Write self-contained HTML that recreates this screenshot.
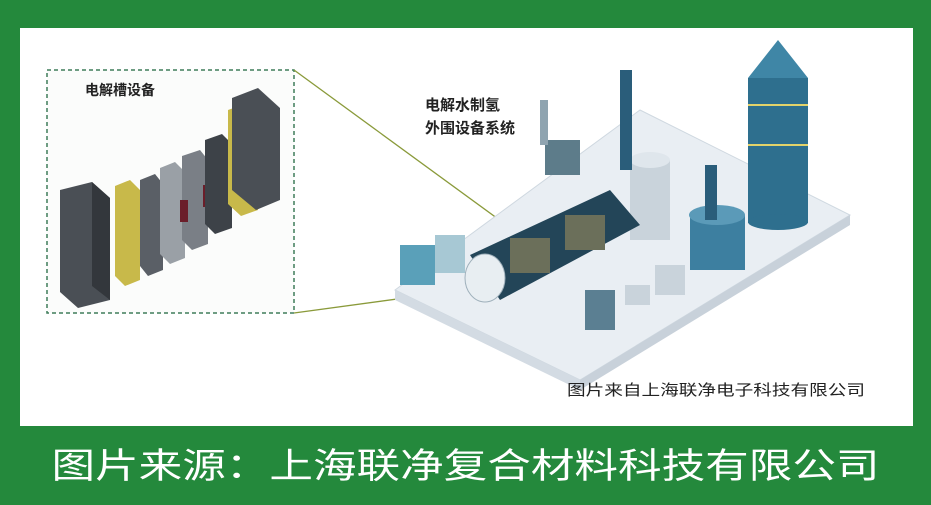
<!DOCTYPE html>
<html><head><meta charset="utf-8"><style>
html,body{margin:0;padding:0;width:931px;height:505px;overflow:hidden;background:#24893c;}
svg{display:block}
text{font-family:"Liberation Sans","Noto Sans CJK SC",sans-serif;}
</style></head><body>
<svg width="931" height="505" viewBox="0 0 931 505">
<rect x="0" y="0" width="931" height="505" fill="#24893c"/>
<rect x="20" y="28" width="893" height="398" fill="#ffffff"/>
<rect x="47" y="70" width="247" height="243" fill="#fbfcfb" stroke="#3f7d5a" stroke-width="1.5" stroke-dasharray="4,3"/>
<text x="85" y="95" font-size="14" font-weight="bold" fill="#222">电解槽设备</text>
<line x1="294" y1="70" x2="520" y2="235" stroke="#8a9a3a" stroke-width="1.3"/>
<line x1="294" y1="313" x2="500" y2="285" stroke="#8a9a3a" stroke-width="1.3"/>
<polygon points="60,190 92,182 110,198 110,300 78,308 60,292" fill="#4a4f55"/>
<polygon points="92,182 110,198 110,300 92,286" fill="#33373c"/>
<polygon points="115,186 130,180 140,190 140,280 125,286 115,276" fill="#c8b94a"/>
<polygon points="140,180 155,174 163,184 163,270 148,276 140,266" fill="#5a5f66"/>
<polygon points="160,168 175,162 185,172 185,258 170,264 160,254" fill="#9aa0a6"/>
<polygon points="182,156 200,150 208,160 208,244 192,250 182,240" fill="#7a7f86"/>
<rect x="180" y="200" width="8" height="22" fill="#6b1e2a"/>
<rect x="203" y="185" width="8" height="22" fill="#6b1e2a"/>
<polygon points="205,140 222,134 232,144 232,228 215,234 205,224" fill="#3d4248"/>
<polygon points="228,110 245,104 258,116 258,210 241,216 228,204" fill="#c8b94a"/>
<polygon points="232,98 258,88 280,108 280,200 256,210 232,190" fill="#4a4f55"/>
<polygon points="395,290 640,110 850,215 580,380" fill="#e9eef3" stroke="#cfd8e0"/>
<polygon points="395,290 580,380 580,390 395,300" fill="#d3dbe3"/>
<polygon points="580,380 850,215 850,225 580,390" fill="#c8d1da"/>
<rect x="748" y="78" width="60" height="145" fill="#2e6f8e"/>
<ellipse cx="778" cy="222" rx="30" ry="8" fill="#2e6f8e"/>
<polygon points="748,78 778,40 808,78" fill="#3f86a6"/>
<line x1="748" y1="105" x2="808" y2="105" stroke="#e3d36a" stroke-width="2"/>
<line x1="748" y1="145" x2="808" y2="145" stroke="#e3d36a" stroke-width="2"/>
<rect x="630" y="160" width="40" height="80" fill="#c9d3db"/>
<ellipse cx="650" cy="160" rx="20" ry="8" fill="#dfe6ec"/>
<rect x="620" y="70" width="12" height="100" fill="#2a5d7a"/>
<rect x="690" y="215" width="55" height="55" fill="#3d7fa0"/>
<ellipse cx="717" cy="215" rx="28" ry="10" fill="#5b9ab8"/>
<rect x="705" y="165" width="12" height="55" fill="#2a5d7a"/>
<rect x="545" y="140" width="35" height="35" fill="#5d7c8a"/>
<rect x="540" y="100" width="8" height="45" fill="#8fa4b0"/>
<polygon points="470,255 610,190 640,225 500,300" fill="#234558"/>
<ellipse cx="485" cy="278" rx="20" ry="24" fill="#e8eef2" stroke="#9fb0bb"/>
<rect x="510" y="238" width="40" height="35" fill="#6b6f5a"/>
<rect x="565" y="215" width="40" height="35" fill="#6b6f5a"/>
<rect x="400" y="245" width="35" height="40" fill="#5aa0b9"/>
<rect x="435" y="235" width="30" height="38" fill="#a7c8d4"/>
<rect x="585" y="290" width="30" height="40" fill="#5b7f92"/>
<rect x="625" y="285" width="25" height="20" fill="#c9d3db"/>
<rect x="655" y="265" width="30" height="30" fill="#c9d3db"/>
<text x="425" y="110" font-size="15" font-weight="bold" fill="#222">电解水制氢</text>
<text x="425" y="133" font-size="15" font-weight="bold" fill="#222">外围设备系统</text>
<text x="567" y="395" font-size="15" fill="#222" textLength="298" lengthAdjust="spacingAndGlyphs">图片来自上海联净电子科技有限公司</text>
<text x="465.5" y="478" font-size="35" fill="#ffffff" text-anchor="middle" textLength="828" lengthAdjust="spacingAndGlyphs">图片来源：上海联净复合材料科技有限公司</text>
</svg>
</body></html>
